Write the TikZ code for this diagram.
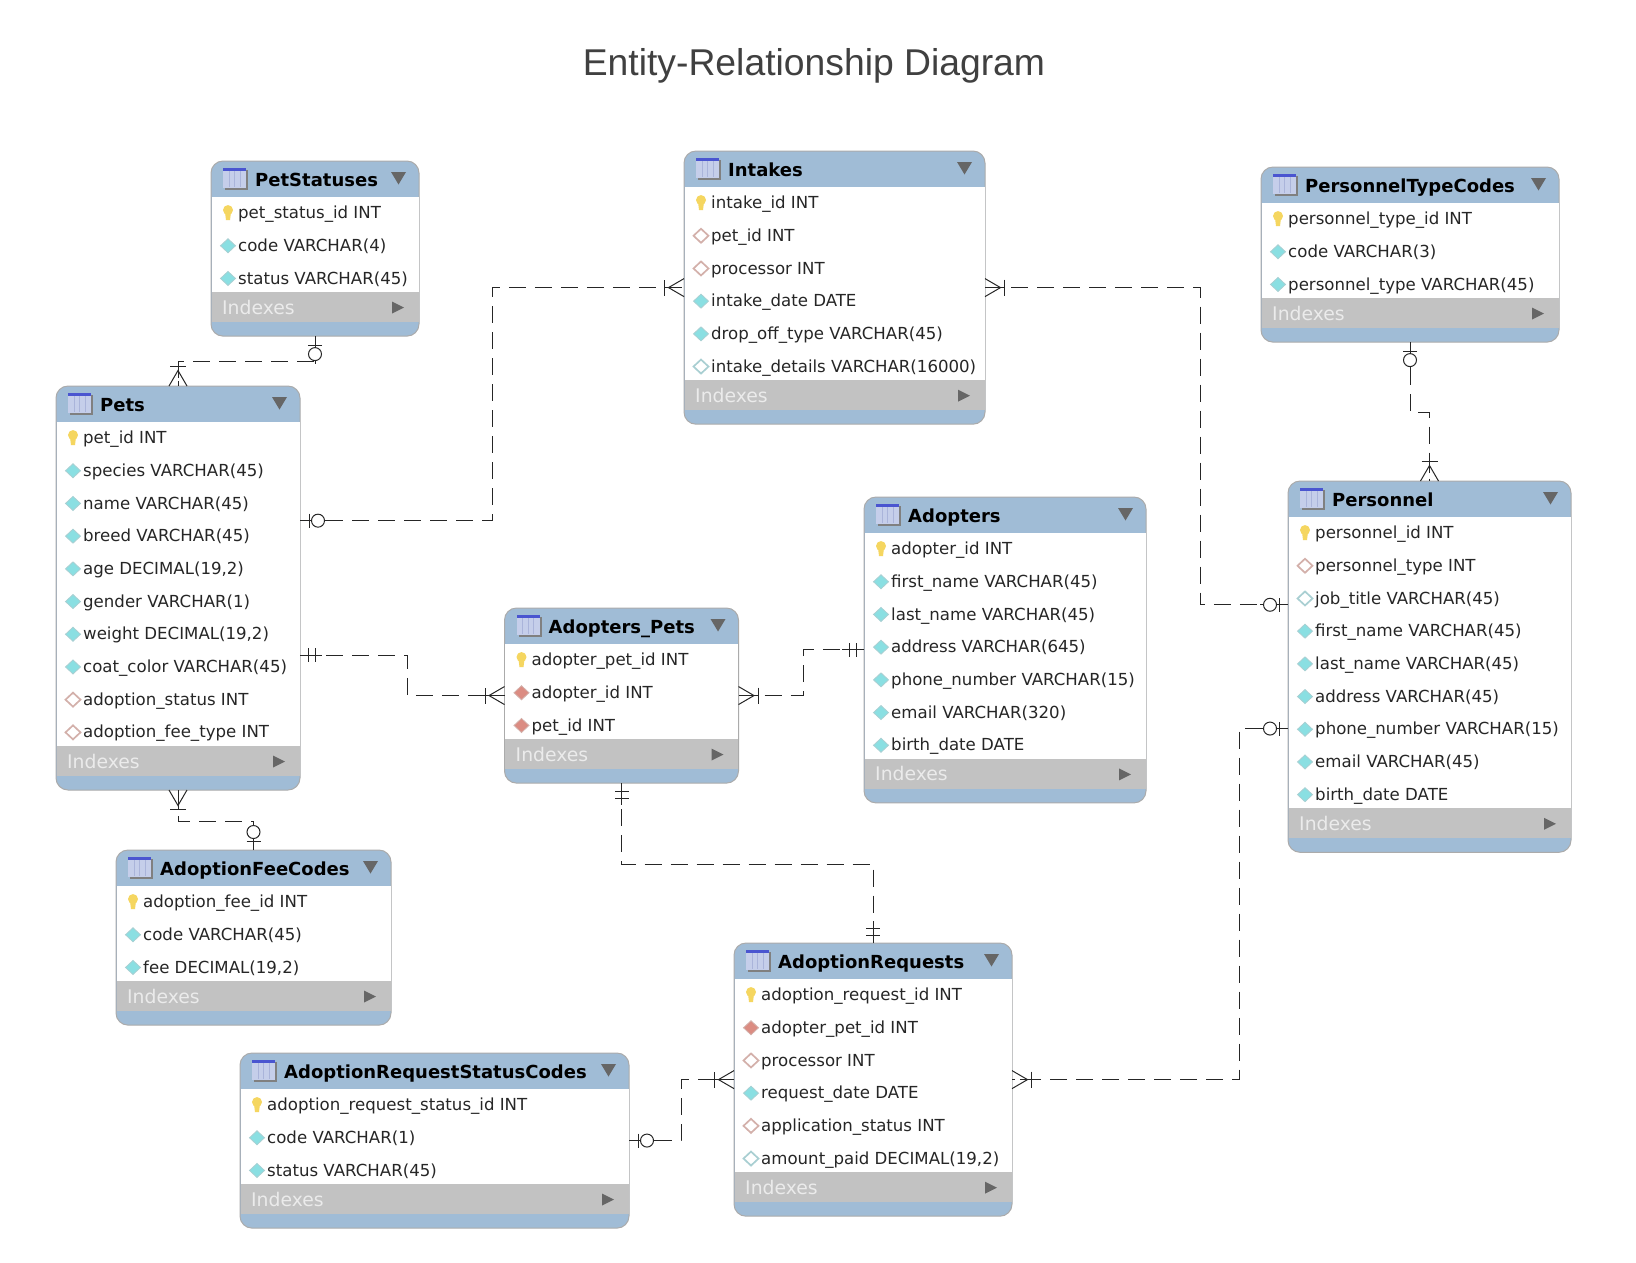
\documentclass[tikz,border=0pt]{standalone}
\usepackage{fontspec}
\setmainfont{DejaVu Sans}
\newfontfamily\headingfont{Liberation Sans}
\usepackage{tikz}
\usetikzlibrary{calc}
\definecolor{headblue}{HTML}{A0BCD6}
\definecolor{bandgray}{HTML}{C2C2C2}
\definecolor{edgegray}{HTML}{ABABAB}
\definecolor{arrowgray}{HTML}{666666}
\definecolor{inkdark}{HTML}{262626}
\definecolor{keyyellow}{HTML}{F5D660}
\definecolor{cyanface}{HTML}{8ADFE2}
\definecolor{cyanedge}{HTML}{A9CFD2}
\definecolor{redface}{HTML}{DB8C82}
\definecolor{rededge}{HTML}{D3B0AA}
\definecolor{iconface}{HTML}{C5CEEA}
\definecolor{iconline}{HTML}{AAB4DA}
\definecolor{iconband}{HTML}{4A55D0}
\newcommand{\rowpitch}{32.7}
\newcommand{\headh}{36}
\tikzset{
  tablebody/.style={draw=edgegray, line width=1pt, fill=headblue, rounded corners=12pt, anchor=north west, inner sep=0pt, outer sep=0pt},
  tabletitle/.style={anchor=base west, inner sep=0pt, font=\fontsize{18}{20}\selectfont\bfseries, text=black},
  fieldtext/.style={anchor=base west, inner sep=0pt, font=\fontsize{16.6}{18}\selectfont, text=inkdark},
  indexestext/.style={anchor=base west, inner sep=0pt, font=\fontsize{18.8}{20}\selectfont, text=white!92!black},
  reldash/.style={draw=inkdark, line width=1pt, dash pattern=on 17pt off 9pt},
  relsolid/.style={draw=inkdark, line width=1pt},
  cyanfull/.style={fill=cyanface, draw=cyanedge, line width=0.8pt},
  cyanhollow/.style={fill=white, draw=cyanedge, line width=1.7pt},
  redfull/.style={fill=redface, draw=rededge, line width=0.8pt},
  redhollow/.style={fill=white, draw=rededge, line width=1.7pt},
}
%icons for the rows
\newcommand{\keyicon}{
  \fill[keyyellow] (-3,-1) -- (-2,7) -- (2,7) -- (3,-1) -- cycle;
  \fill[keyyellow] (0,-3) circle (5);
}
\newcommand{\diamondicon}[1]{
  \draw[#1] (-7.5,0) -- (0,-7) -- (7.5,0) -- (0,7) -- cycle;
}
%name, left, top, width, rows, title
\newcommand{\tablebox}[6]{
  \pgfmathsetmacro{\tableh}{77+\rowpitch*#5}
  \pgfmathsetmacro{\bandy}{\headh+\rowpitch*#5-3}
  \node[tablebody, minimum width=#4pt, minimum height=\tableh pt] (#1) at (#2,#3) {};
  \begin{scope}[shift={(#1.north west)}]
    \fill[white] (0.5,\headh) rectangle ({#4-0.5},\bandy);
    \fill[bandgray] (0.5,\bandy) rectangle ({#4-0.5},{\bandy+30});
    \fill[black!50] (14,9) rectangle (37,29);
    \fill[iconface] (12,8) rectangle (35,27);
    \fill[iconband] (12,7) rectangle (35,9.5);
    \draw[iconline, line width=0.6pt] (18,10) -- (18,26) (23.5,10) -- (23.5,26) (29,10) -- (29,26);
    \fill[arrowgray] ({#4-28},11) -- ({#4-13},11) -- ({#4-20.5},23.5) -- cycle;
    \fill[arrowgray] ({#4-27},{\bandy+9.5}) -- ({#4-15},{\bandy+15.5}) -- ({#4-27},{\bandy+21.5}) -- cycle;
    \node[tabletitle] (#1 title) at (44,25) {#6};
    \node[indexestext] (#1 idx) at (11,{\bandy+22}) {Indexes};
  \end{scope}
}
%table, row, icon, text
\newcommand{\field}[4]{
  \pgfmathsetmacro{\rowy}{\headh+\rowpitch*(#2-0.5)-0.3}
  \begin{scope}[shift={($(#1.north west)+(17,\rowy)$)}]
    #3
  \end{scope}
  \node[fieldtext] (#1 r#2) at ($(#1.north west)+(27,\rowy+5.6)$) {#4};
}
%ends of the relations, x is outward from the table
\newcommand{\crowend}[2]{
  \begin{scope}[shift={(#1)},rotate=#2]
    \draw[relsolid] (19.5,-8) -- (19.5,8);
    \draw[relsolid] (0,-9) -- (15.5,0) -- (0,9);
    \draw[relsolid] (8,0) -- (19.5,0);
  \end{scope}
}
\newcommand{\oneoneend}[2]{
  \begin{scope}[shift={(#1)},rotate=#2]
    \draw[relsolid] (0,0) -- (22,0);
    \draw[relsolid] (8,-7) -- (8,7);
    \draw[relsolid] (15,-7) -- (15,7);
  \end{scope}
}
\newcommand{\zerooneend}[2]{
  \begin{scope}[shift={(#1)},rotate=#2]
    \draw[relsolid] (0,0) -- (28,0);
    \draw[relsolid] (9,-7) -- (9,7);
    \draw[relsolid, fill=white] (18,0) circle (6.5);
  \end{scope}
}

\begin{document}
\begin{tikzpicture}[x=1pt,y=-1pt]
\useasboundingbox (0,0) rectangle (1636,1262);
\node[font=\fontsize{37.3}{40}\selectfont\headingfont, text=black!75] (heading) at (814,66) {Entity-Relationship Diagram};
%PetStatuses
\tablebox{petstatuses}{211}{161}{208}{3}{PetStatuses}
\field{petstatuses}{1}{\keyicon}{pet\_status\_id INT}
\field{petstatuses}{2}{\diamondicon{cyanfull}}{code VARCHAR(4)}
\field{petstatuses}{3}{\diamondicon{cyanfull}}{status VARCHAR(45)}
%Intakes
\tablebox{intakes}{684}{151}{301}{6}{Intakes}
\field{intakes}{1}{\keyicon}{intake\_id INT}
\field{intakes}{2}{\diamondicon{redhollow}}{pet\_id INT}
\field{intakes}{3}{\diamondicon{redhollow}}{processor INT}
\field{intakes}{4}{\diamondicon{cyanfull}}{intake\_date DATE}
\field{intakes}{5}{\diamondicon{cyanfull}}{drop\_off\_type VARCHAR(45)}
\field{intakes}{6}{\diamondicon{cyanhollow}}{intake\_details VARCHAR(16000)}
%PersonnelTypeCodes
\tablebox{typecodes}{1261}{167}{298}{3}{PersonnelTypeCodes}
\field{typecodes}{1}{\keyicon}{personnel\_type\_id INT}
\field{typecodes}{2}{\diamondicon{cyanfull}}{code VARCHAR(3)}
\field{typecodes}{3}{\diamondicon{cyanfull}}{personnel\_type VARCHAR(45)}
%Pets
\tablebox{pets}{56}{386}{244}{10}{Pets}
\field{pets}{1}{\keyicon}{pet\_id INT}
\field{pets}{2}{\diamondicon{cyanfull}}{species VARCHAR(45)}
\field{pets}{3}{\diamondicon{cyanfull}}{name VARCHAR(45)}
\field{pets}{4}{\diamondicon{cyanfull}}{breed VARCHAR(45)}
\field{pets}{5}{\diamondicon{cyanfull}}{age DECIMAL(19,2)}
\field{pets}{6}{\diamondicon{cyanfull}}{gender VARCHAR(1)}
\field{pets}{7}{\diamondicon{cyanfull}}{weight DECIMAL(19,2)}
\field{pets}{8}{\diamondicon{cyanfull}}{coat\_color VARCHAR(45)}
\field{pets}{9}{\diamondicon{redhollow}}{adoption\_status INT}
\field{pets}{10}{\diamondicon{redhollow}}{adoption\_fee\_type INT}
%Adopters
\tablebox{adopters}{864}{497}{282}{7}{Adopters}
\field{adopters}{1}{\keyicon}{adopter\_id INT}
\field{adopters}{2}{\diamondicon{cyanfull}}{first\_name VARCHAR(45)}
\field{adopters}{3}{\diamondicon{cyanfull}}{last\_name VARCHAR(45)}
\field{adopters}{4}{\diamondicon{cyanfull}}{address VARCHAR(645)}
\field{adopters}{5}{\diamondicon{cyanfull}}{phone\_number VARCHAR(15)}
\field{adopters}{6}{\diamondicon{cyanfull}}{email VARCHAR(320)}
\field{adopters}{7}{\diamondicon{cyanfull}}{birth\_date DATE}
%Personnel
\tablebox{personnel}{1288}{481}{283}{9}{Personnel}
\field{personnel}{1}{\keyicon}{personnel\_id INT}
\field{personnel}{2}{\diamondicon{redhollow}}{personnel\_type INT}
\field{personnel}{3}{\diamondicon{cyanhollow}}{job\_title VARCHAR(45)}
\field{personnel}{4}{\diamondicon{cyanfull}}{first\_name VARCHAR(45)}
\field{personnel}{5}{\diamondicon{cyanfull}}{last\_name VARCHAR(45)}
\field{personnel}{6}{\diamondicon{cyanfull}}{address VARCHAR(45)}
\field{personnel}{7}{\diamondicon{cyanfull}}{phone\_number VARCHAR(15)}
\field{personnel}{8}{\diamondicon{cyanfull}}{email VARCHAR(45)}
\field{personnel}{9}{\diamondicon{cyanfull}}{birth\_date DATE}
%Adopters_Pets
\tablebox{adopterspets}{504.5}{608}{234}{3}{Adopters\_Pets}
\field{adopterspets}{1}{\keyicon}{adopter\_pet\_id INT}
\field{adopterspets}{2}{\diamondicon{redfull}}{adopter\_id INT}
\field{adopterspets}{3}{\diamondicon{redfull}}{pet\_id INT}
%AdoptionFeeCodes
\tablebox{feecodes}{116}{850}{275}{3}{AdoptionFeeCodes}
\field{feecodes}{1}{\keyicon}{adoption\_fee\_id INT}
\field{feecodes}{2}{\diamondicon{cyanfull}}{code VARCHAR(45)}
\field{feecodes}{3}{\diamondicon{cyanfull}}{fee DECIMAL(19,2)}
%AdoptionRequestStatusCodes
\tablebox{statuscodes}{240}{1053}{389}{3}{AdoptionRequestStatusCodes}
\field{statuscodes}{1}{\keyicon}{adoption\_request\_status\_id INT}
\field{statuscodes}{2}{\diamondicon{cyanfull}}{code VARCHAR(1)}
\field{statuscodes}{3}{\diamondicon{cyanfull}}{status VARCHAR(45)}
%AdoptionRequests
\tablebox{requests}{734}{943}{278}{6}{AdoptionRequests}
\field{requests}{1}{\keyicon}{adoption\_request\_id INT}
\field{requests}{2}{\diamondicon{redfull}}{adopter\_pet\_id INT}
\field{requests}{3}{\diamondicon{redhollow}}{processor INT}
\field{requests}{4}{\diamondicon{cyanfull}}{request\_date DATE}
\field{requests}{5}{\diamondicon{redhollow}}{application\_status INT}
\field{requests}{6}{\diamondicon{cyanhollow}}{amount\_paid DECIMAL(19,2)}
%ports and bends
\coordinate (pets e1) at ($(pets.north east)!0.3333!(pets.south east)$);
\coordinate (pets e2) at ($(pets.north east)!0.6667!(pets.south east)$);
\coordinate (personnel w1) at ($(personnel.north west)!0.3333!(personnel.south west)$);
\coordinate (personnel w2) at ($(personnel.north west)!0.6667!(personnel.south west)$);
\coordinate (bend1) at (0,361);
\coordinate (bend2) at (492,0);
\coordinate (bend3) at (407.5,0);
\coordinate (bend4) at (803,0);
\coordinate (bend5) at (1200,0);
\coordinate (bend6) at (0,412);
\coordinate (bend7) at (1239,0);
\coordinate (bend8) at (0,864);
\coordinate (bend9) at (681,0);
\coordinate (bend10) at (0,821);
%relations
\draw[reldash] (petstatuses.south) -- (petstatuses.south |- bend1) -- (pets.north |- bend1) -- (pets.north);
\draw[reldash] (pets e1) -- (pets e1 -| bend2) -- (intakes.west -| bend2) -- (intakes.west);
\draw[reldash] (pets e2) -- (pets e2 -| bend3) -- (adopterspets.west -| bend3) -- (adopterspets.west);
\draw[reldash] (adopterspets.east) -- (adopterspets.east -| bend4) -- (adopters.west -| bend4) -- (adopters.west);
\draw[reldash] (intakes.east) -- (intakes.east -| bend5) -- (personnel w1 -| bend5) -- (personnel w1);
\draw[reldash] (typecodes.south) -- (typecodes.south |- bend6) -- (personnel.north |- bend6) -- (personnel.north);
\draw[reldash] (personnel w2) -- (personnel w2 -| bend7) -- (requests.east -| bend7) -- (requests.east);
\draw[reldash] (adopterspets.south) -- (adopterspets.south |- bend8) -- (requests.north |- bend8) -- (requests.north);
\draw[reldash] (statuscodes.east) -- (statuscodes.east -| bend9) -- (requests.west -| bend9) -- (requests.west);
\draw[reldash] (pets.south) -- (pets.south |- bend10) -- (feecodes.north |- bend10) -- (feecodes.north);
%ends
\zerooneend{petstatuses.south}{270}
\crowend{pets.north}{90}
\zerooneend{pets e1}{0}
\crowend{intakes.west}{180}
\oneoneend{pets e2}{0}
\crowend{adopterspets.west}{180}
\crowend{adopterspets.east}{0}
\oneoneend{adopters.west}{180}
\crowend{intakes.east}{0}
\zerooneend{personnel w1}{180}
\zerooneend{typecodes.south}{270}
\crowend{personnel.north}{90}
\zerooneend{personnel w2}{180}
\crowend{requests.east}{0}
\oneoneend{adopterspets.south}{270}
\oneoneend{requests.north}{90}
\zerooneend{statuscodes.east}{0}
\crowend{requests.west}{180}
\crowend{pets.south}{270}
\zerooneend{feecodes.north}{90}
\end{tikzpicture}
\end{document}
